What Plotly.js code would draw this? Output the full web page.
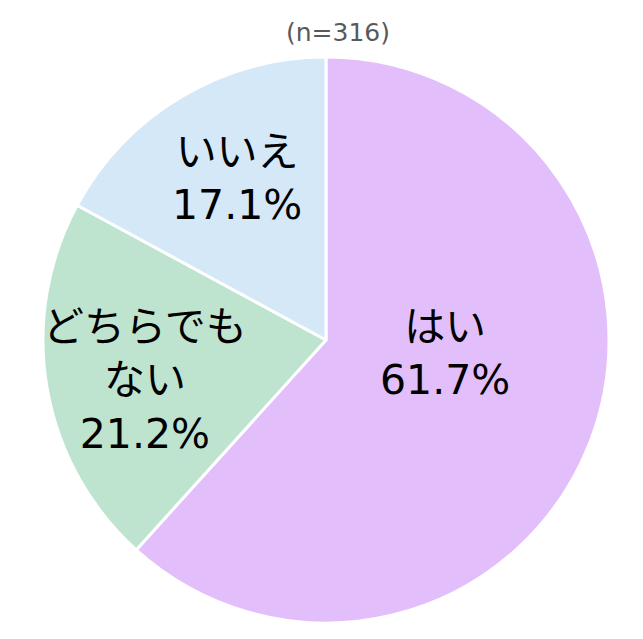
<!DOCTYPE html>
<html>
<head>
<meta charset="utf-8">
<script src="https://cdn.plot.ly/plotly-3.0.1.min.js"></script>
<style>html,body{margin:0;padding:0;background:#fff;}#chart{width:643px;height:639px;}</style>
</head>
<body>
<div id="chart"></div>
<script>
const labels = ["はい", "どちらでもない", "いいえ"];
const values = [61.7, 21.2, 17.1];
const labelLines = ["はい", "どちらでも<br>ない", "いいえ"];
const colors = ["#E2BFFB", "#BEE4D0", "#D4E8F7"];
const sampleNote = "(n=316)";

const W = 643, H = 639;
const cx = 326, cy = 340, r = 283;
// label anchor positions (pixel) per slice
const labelPos = [[445, 353], [145, 381], [237, 178]];

const font = "DejaVu Sans, Noto Sans CJK JP, sans-serif";

const trace = {
  type: "pie",
  labels: labels,
  values: values,
  sort: false,
  direction: "clockwise",
  rotation: 0,
  textinfo: "none",
  hoverinfo: "label+percent",
  marker: {colors: colors, line: {color: "#ffffff", width: 3}},
  domain: {x: [(cx - r) / W, (cx + r) / W], y: [1 - (cy + r) / H, 1 - (cy - r) / H]},
  showlegend: false
};

const annotations = labels.map((l, i) => ({
  x: labelPos[i][0] / W, y: 1 - labelPos[i][1] / H,
  xref: "paper", yref: "paper", xanchor: "center", yanchor: "middle",
  showarrow: false,
  text: labelLines[i] + "<br>" + values[i].toFixed(1) + "%",
  font: {family: font, size: 41, color: "#000000"}
}));
annotations.push({
  x: 338 / W, y: 1 - 33 / H, xref: "paper", yref: "paper",
  xanchor: "center", yanchor: "middle", showarrow: false,
  text: sampleNote, font: {family: font, size: 25, color: "#595959"}
});

const layout = {
  width: W, height: H,
  margin: {l: 0, r: 0, t: 0, b: 0},
  paper_bgcolor: "#ffffff",
  annotations: annotations
};

Plotly.newPlot("chart", [trace], layout, {displayModeBar: false, staticPlot: true});
</script>
</body>
</html>
